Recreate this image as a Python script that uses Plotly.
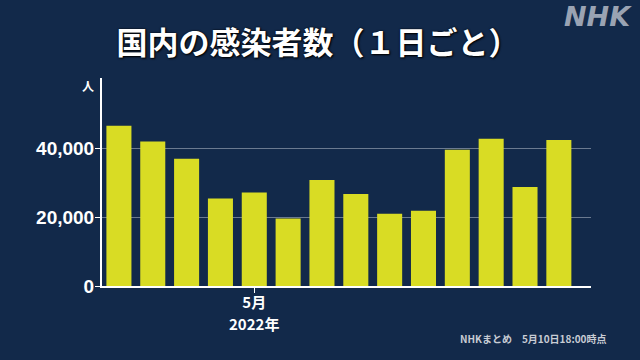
import plotly.graph_objects as go

dates = ["4/27", "4/28", "4/29", "4/30", "5/1", "5/2", "5/3", "5/4",
         "5/5", "5/6", "5/7", "5/8", "5/9", "5/10"]
cases = [46470, 41920, 36900, 25400, 27130, 19600, 30730, 26670,
         20960, 21830, 39510, 42700, 28700, 42320]
y_ticks = [0, 20000, 40000]
y_tick_labels = ["0", "20,000", "40,000"]

BG = "#12294a"
BAR = "#d9dc24"
JP = "Noto Sans CJK JP"

L, R, T, B = 102, 49, 78, 74
plot_h = 360 - T - B
plot_w = 640 - L - R


def px_x(x):
    return (x - L) / plot_w


def px_y(y):
    return (360 - B - y) / plot_h


fig = go.Figure(go.Bar(x=dates, y=cases, marker=dict(color=BAR, line=dict(width=0))))

fig.update_layout(
    width=640, height=360,
    paper_bgcolor=BG, plot_bgcolor=BG,
    margin=dict(l=L, r=R, t=T, b=B),
    bargap=0.26,
    showlegend=False,
    title=dict(
        text="国内の感染者数（１日ごと）",
        x=318 / 640, xanchor="center", xref="container",
        y=1 - 43 / 360, yanchor="middle", yref="container",
        font=dict(family=JP, size=31, color="white", weight="bold",
                  shadow="0px 0px 2px #000, 1px 1px 2px #000"),
    ),
    xaxis=dict(
        type="category", range=[-0.5, 13.95],
        tickvals=["5/1"], ticktext=["5月"],
        ticks="outside", ticklen=5, tickcolor="white", tickwidth=1,
        ticklabelstandoff=-3,
        showline=True, linecolor="white", linewidth=2,
        showgrid=False, fixedrange=True,
        tickfont=dict(family=JP, size=15, color="white", weight="bold"),
    ),
    yaxis=dict(
        range=[0, 60300],
        tickvals=y_ticks, ticktext=y_tick_labels,
        ticks="outside", ticklen=5, tickcolor="white", tickwidth=1,
        ticklabelstandoff=-3,
        showline=True, linecolor="white", linewidth=2,
        showgrid=True, gridcolor="#6b7a90", gridwidth=1,
        zeroline=False, fixedrange=True,
        tickfont=dict(family="Liberation Sans", size=19, color="white", weight="bold"),
    ),
    annotations=[
        dict(text="2022年", x="5/1", xref="x", y=px_y(323), yref="paper",
             showarrow=False, xanchor="center", yanchor="middle",
             font=dict(family=JP, size=15, color="white", weight="bold")),
        dict(text="人", x=px_x(88), xref="paper", y=px_y(85), yref="paper",
             showarrow=False, xanchor="center", yanchor="middle",
             font=dict(family=JP, size=12, color="white", weight="bold")),
        dict(text="<i>NHK</i>", x=px_x(634), xref="paper", y=px_y(17), yref="paper",
             showarrow=False, xanchor="right", yanchor="middle",
             font=dict(family="DejaVu Sans", size=27, color="#9aa3b3", weight="bold")),
        dict(text="NHKまとめ　5月10日18:00時点", x=px_x(608), xref="paper", y=px_y(338),
             yref="paper", showarrow=False, xanchor="right", yanchor="middle",
             font=dict(family=JP, size=10, color="#c8ccd4", weight="bold")),
    ],
)

fig.write_html("out.html", config={"displayModeBar": False},
               post_script="document.body.style.margin='0px';")
